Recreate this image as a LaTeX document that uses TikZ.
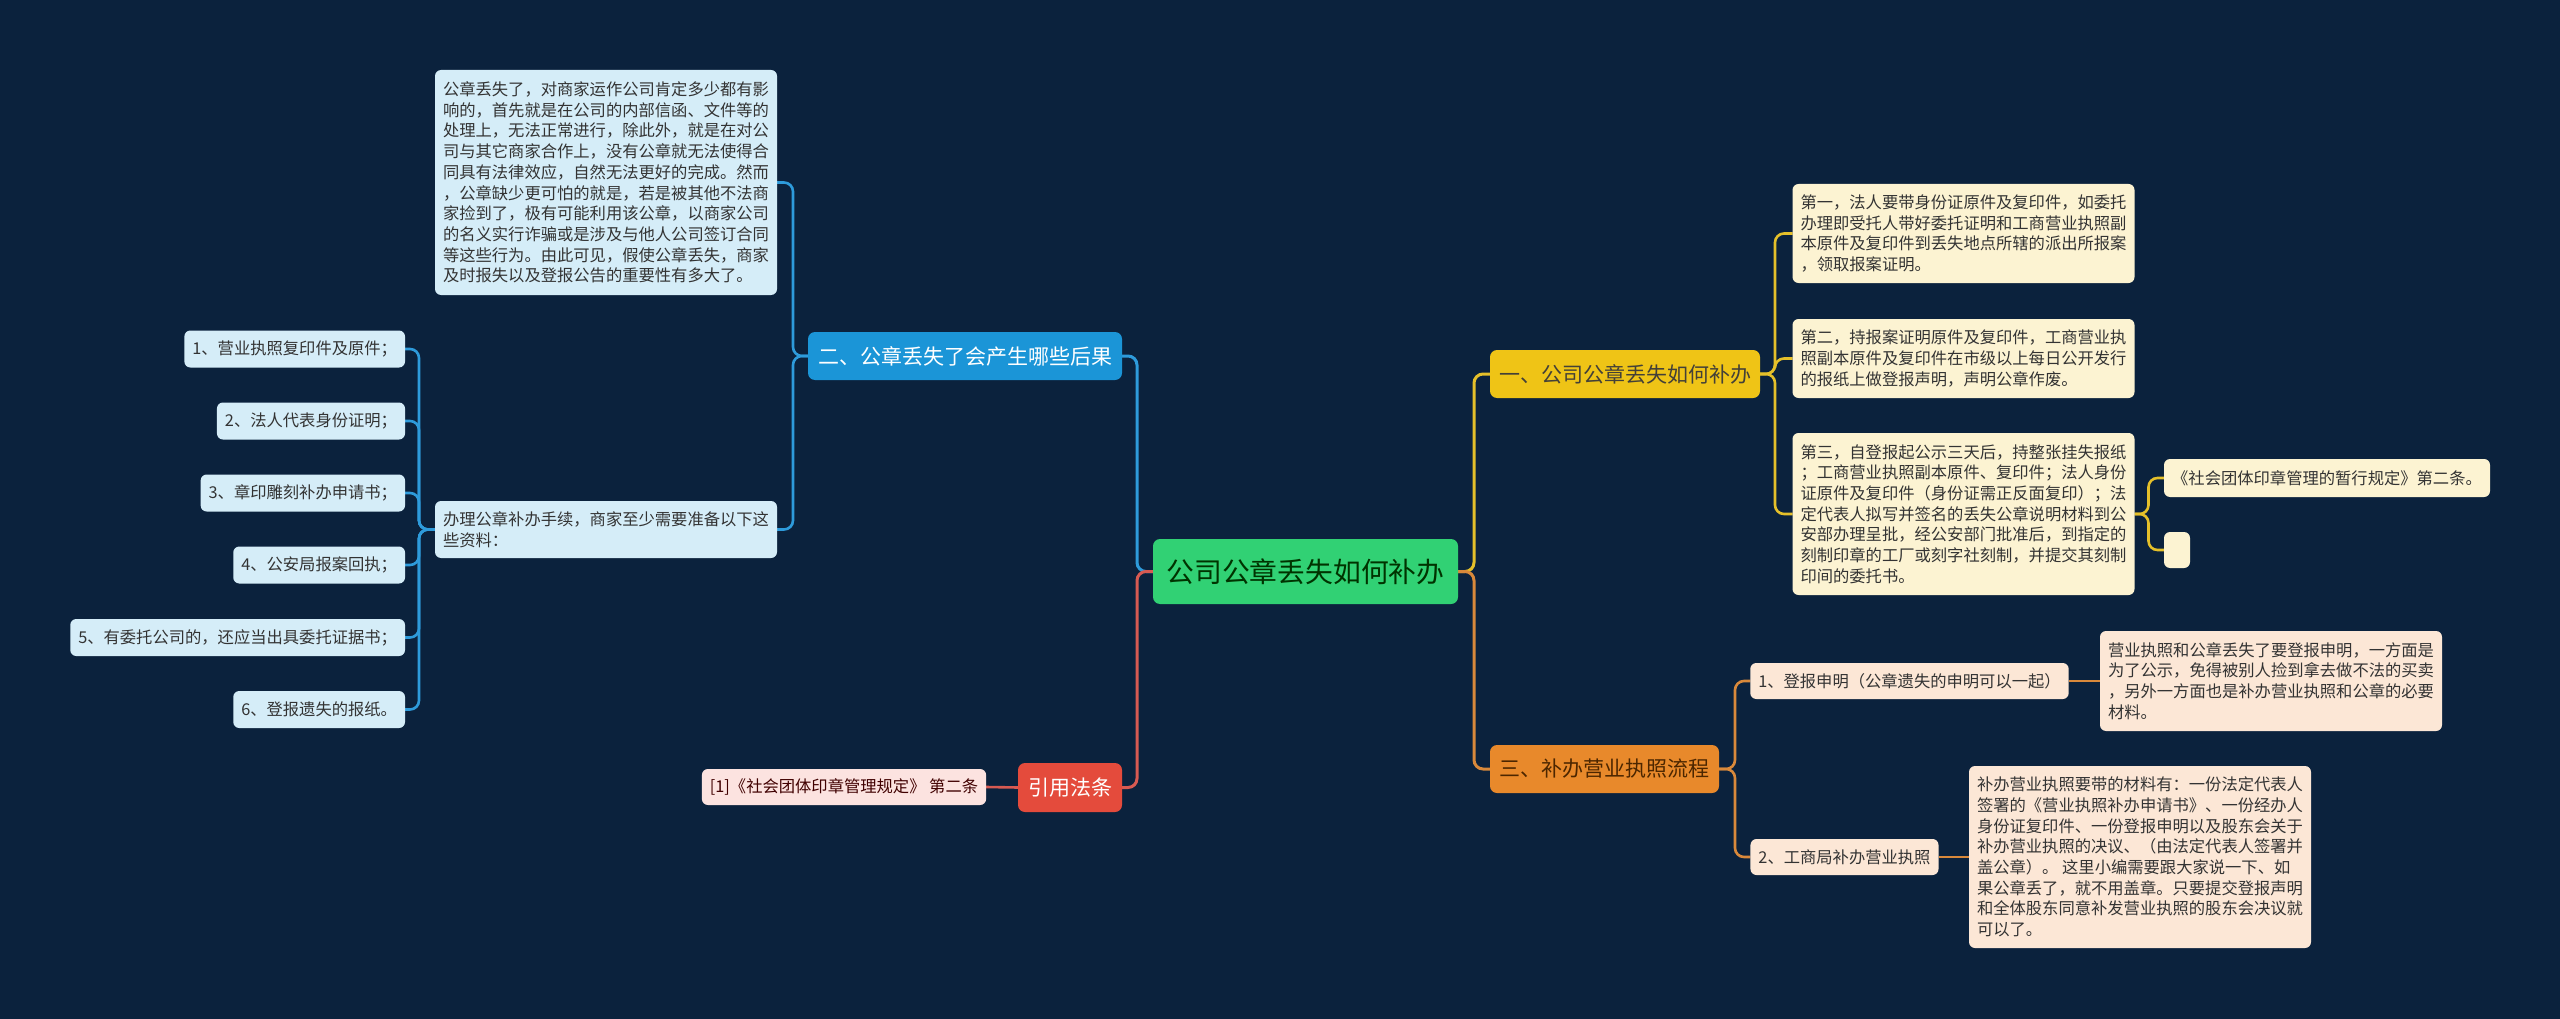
\documentclass[tikz,border=0pt]{standalone}
\usepackage{fontspec}
\setmainfont{Noto Sans CJK SC}
\usetikzlibrary{backgrounds}
\definecolor{bg}{HTML}{0B223D}
\definecolor{cgreen}{HTML}{31D174}
\definecolor{cyellow}{HTML}{EFC416}
\definecolor{cblue}{HTML}{1B95D7}
\definecolor{corange}{HTML}{E8892B}
\definecolor{cred}{HTML}{E44B3C}
\definecolor{lblue}{HTML}{D5EDF8}
\definecolor{lyellow}{HTML}{FCF3D2}
\definecolor{lorange}{HTML}{FCE7D6}
\definecolor{lred}{HTML}{FCE3E0}
\definecolor{wblue}{HTML}{2E9BDB}
\definecolor{wyellow}{HTML}{E5C02A}
\definecolor{worange}{HTML}{D9893B}
\definecolor{wred}{HTML}{D75A52}
\definecolor{ltext}{HTML}{333333}
\tikzset{
  box/.style={rounded corners=7pt, inner xsep=8pt, inner ysep=0pt, outer sep=0pt, align=center},
  leaf/.style={box, rounded corners=6pt, font=\fontsize{16.3}{20.7}\selectfont, text=ltext, minimum height=37pt},
  multi/.style={leaf, align=left},
  lvl/.style={box, font=\fontsize{21}{25}\selectfont, minimum height=48pt},
  wire/.style={line width=2.6pt, rounded corners=9pt},
}
\begin{document}
\begin{tikzpicture}[x=1pt,y=-1pt]
\begin{scope}[on background layer]
\fill[bg] (0,0) rectangle (2560,1019);
\end{scope}
\useasboundingbox (0,0) rectangle (2560,1019);

% root and level 1
\node[box, fill=cgreen, text=black!80!green, font=\fontsize{27.8}{32}\selectfont, minimum width=305pt, minimum height=65pt] (root) at (1305.5,571.5) {公司公章丢失如何补办};
\node[lvl, fill=cblue, text=white, minimum width=314pt] (b2) at (965,356) {二、公章丢失了会产生哪些后果};
\node[lvl, fill=cyellow, text=black!85!yellow, minimum width=270pt] (b1) at (1625,374) {一、公司公章丢失如何补办};
\node[lvl, fill=corange, text=black!70!orange, minimum width=229pt] (b3) at (1604.5,769) {三、补办营业执照流程};
\node[lvl, fill=cred, text=white, minimum width=104pt, minimum height=49pt] (b4) at (1070,787.5) {引用法条};

% blue leaves
\node[multi, fill=lblue, minimum width=341pt, minimum height=225pt] (bt) at (606,182.5) {公章丢失了，对商家运作公司肯定多少都有影\\响的，首先就是在公司的内部信函、文件等的\\处理上，无法正常进行，除此外，就是在对公\\司与其它商家合作上，没有公章就无法使得合\\同具有法律效应，自然无法更好的完成。然而\\，公章缺少更可怕的就是，若是被其他不法商\\家捡到了，极有可能利用该公章，以商家公司\\的名义实行诈骗或是涉及与他人公司签订合同\\等这些行为。由此可见，假使公章丢失，商家\\及时报失以及登报公告的重要性有多大了。};
\node[multi, fill=lblue, minimum width=340pt, minimum height=57pt] (bm) at (606,529.5) {办理公章补办手续，商家至少需要准备以下这\\些资料：};
\node[leaf, fill=lblue, anchor=east] (i1) at (405,349) {1、营业执照复印件及原件；};
\node[leaf, fill=lblue, anchor=east] (i2) at (405,421) {2、法人代表身份证明；};
\node[leaf, fill=lblue, anchor=east] (i3) at (405,493) {3、章印雕刻补办申请书；};
\node[leaf, fill=lblue, anchor=east] (i4) at (405,565) {4、公安局报案回执；};
\node[leaf, fill=lblue, anchor=east] (i5) at (405,637.5) {5、有委托公司的，还应当出具委托证据书；};
\node[leaf, fill=lblue, anchor=east] (i6) at (405,709.5) {6、登报遗失的报纸。};

% yellow leaves
\node[multi, fill=lyellow, minimum width=341pt, minimum height=99pt] (y1) at (1963.5,233.5) {第一，法人要带身份证原件及复印件，如委托\\办理即受托人带好委托证明和工商营业执照副\\本原件及复印件到丢失地点所辖的派出所报案\\，领取报案证明。};
\node[multi, fill=lyellow, minimum width=341pt, minimum height=79pt] (y2) at (1963.5,358.5) {第二，持报案证明原件及复印件，工商营业执\\照副本原件及复印件在市级以上每日公开发行\\的报纸上做登报声明，声明公章作废。};
\node[multi, fill=lyellow, minimum width=341pt, minimum height=162pt] (y3) at (1963.5,514) {第三，自登报起公示三天后，持整张挂失报纸\\；工商营业执照副本原件、复印件；法人身份\\证原件及复印件（身份证需正反面复印）；法\\定代表人拟写并签名的丢失公章说明材料到公\\安部办理呈批，经公安部门批准后，到指定的\\刻制印章的工厂或刻字社刻制，并提交其刻制\\印间的委托书。};
\node[leaf, fill=lyellow, minimum width=326pt, minimum height=38pt] (ys) at (2327,478) {《社会团体印章管理的暂行规定》第二条。};
\node[leaf, fill=lyellow, inner xsep=0pt, minimum width=26pt, minimum height=36pt] (ye) at (2177,550) {};

% orange leaves
\node[leaf, fill=lorange, minimum width=317pt, minimum height=36pt] (o1) at (1909.5,681) {1、登报申明（公章遗失的申明可以一起）};
\node[multi, fill=lorange, minimum width=342pt, minimum height=100pt] (ob1) at (2271,681) {营业执照和公章丢失了要登报申明，一方面是\\为了公示，免得被别人捡到拿去做不法的买卖\\，另外一方面也是补办营业执照和公章的必要\\材料。};
\node[leaf, fill=lorange, minimum width=187pt, minimum height=36pt] (o2) at (1844.5,857) {2、工商局补办营业执照};
\node[multi, fill=lorange, minimum width=342pt, minimum height=182pt] (ob2) at (2140,857) {补办营业执照要带的材料有：一份法定代表人\\签署的《营业执照补办申请书》、一份经办人\\身份证复印件、一份登报申明以及股东会关于\\补办营业执照的决议、（由法定代表人签署并\\盖公章）。 这里小编需要跟大家说一下、如\\果公章丢了，就不用盖章。只要提交登报声明\\和全体股东同意补发营业执照的股东会决议就\\可以了。};

% red leaf
\node[leaf, fill=lred, text=black!75!red, minimum width=284pt, minimum height=36pt] (rl) at (844,787) {[1]《社会团体印章管理规定》 第二条};

\begin{scope}[on background layer]
% root connectors
\draw[wire, line width=3pt, wblue] (root.west) -- ++(-16,0) |- (b2.east);
\draw[wire, line width=3pt, wred] (root.west) -- ++(-16,0) |- (b4.east);
\draw[wire, line width=3pt, wyellow] (root.east) -- ++(16,0) |- (b1.west);
\draw[wire, line width=3pt, worange] (root.east) -- ++(16,0) |- (b3.west);
% blue
\draw[wire, wblue] (b2.west) -- ++(-15,0) |- (bt.east);
\draw[wire, wblue] (b2.west) -- ++(-15,0) |- (bm.east);
\foreach \c in {i1,i2,i3,i4,i5,i6}
  \draw[wire, wblue] (bm.west) -- ++(-16,0) |- (\c.east);
% yellow
\foreach \c in {y1,y2,y3}
  \draw[wire, wyellow] (b1.east) -- ++(15,0) |- (\c.west);
\foreach \c in {ys,ye}
  \draw[wire, wyellow] (y3.east) -- ++(14,0) |- (\c.west);
% orange
\foreach \c in {o1,o2}
  \draw[wire, worange] (b3.east) -- ++(16,0) |- (\c.west);
\draw[wire, worange] (o1.east) -- (ob1.west);
\draw[wire, worange] (o2.east) -- (ob2.west);
% red
\draw[wire, wred] (b4.west) -- (rl.east);
\end{scope}
\end{tikzpicture}
\end{document}
